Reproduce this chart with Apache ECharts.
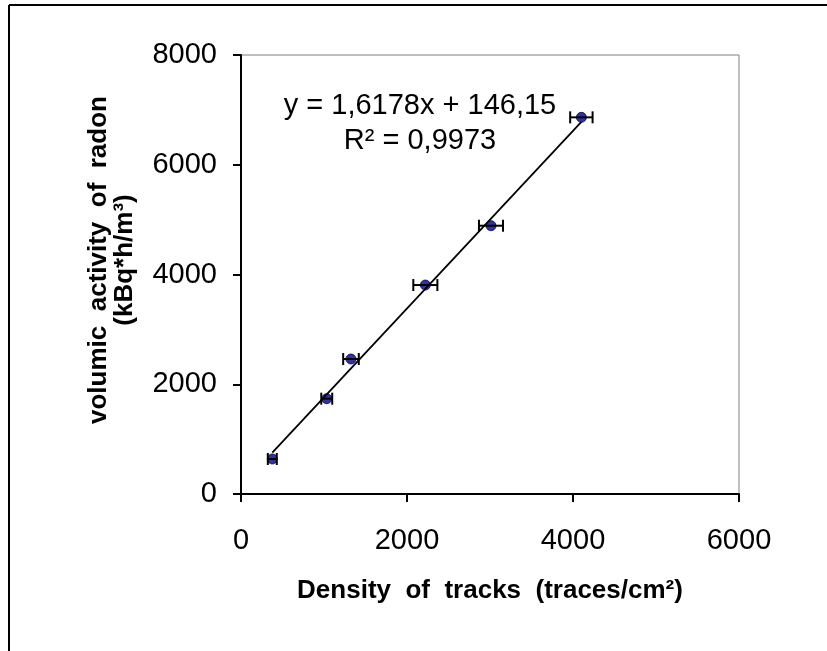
<!DOCTYPE html>
<html><head><meta charset="utf-8">
<script src="https://cdn.jsdelivr.net/npm/echarts@6/dist/echarts.min.js"></script>
<style>html,body{margin:0;padding:0;background:#fff}#c{width:827px;height:651px}</style>
</head><body><div id="c"></div>
<script>
const trackDensity = [377, 1033, 1325, 2221, 3012, 4101];
const radonActivity = [638, 1737, 2460, 3808, 4889, 6864];
const densityError = [54, 66, 94, 145, 145, 135];
const trendSlope = 1.6178;
const trendIntercept = 146.15;
const equationLines = ['y = 1,6178x + 146,15', 'R\u00b2 = 0,9973'];
const xTickValues = [0, 2000, 4000, 6000];
const yTickValues = [0, 2000, 4000, 6000, 8000];
const xTitle = 'Density  of  tracks  (traces/cm\u00b2)';
const yTitleLines = ['volumic  activity  of  radon', '(kBq*h/m\u00b3)'];

const points = trackDensity.map((x, i) => [x, radonActivity[i]]);
const errData = trackDensity.map((x, i) => [x - densityError[i], x + densityError[i], radonActivity[i]]);
const xMin = Math.min(...trackDensity), xMax = Math.max(...trackDensity);
const trendData = [[xMin, trendSlope * xMin + trendIntercept], [xMax, trendSlope * xMax + trendIntercept]];

const FONT = 'Liberation Sans, Arial, sans-serif';
const chart = echarts.init(document.getElementById('c'), null, {renderer: 'canvas'});
chart.setOption({
  animation: false,
  backgroundColor: '#fff',
  grid: {left: 241, right: 88, top: 55, bottom: 157, show: true, borderColor: '#808080', borderWidth: 1, backgroundColor: 'transparent'},
  xAxis: {
    type: 'value', min: xTickValues[0], max: xTickValues[xTickValues.length - 1],
    interval: xTickValues[1] - xTickValues[0],
    axisLine: {show: true, onZero: false, lineStyle: {color: '#000', width: 2}},
    axisTick: {show: true, length: 8, lineStyle: {color: '#000', width: 2}},
    splitLine: {show: false},
    axisLabel: {color: '#000', fontFamily: FONT, fontSize: 29, margin: 32, formatter: v => String(v)},
    name: xTitle, nameLocation: 'middle', nameGap: 84,
    nameTextStyle: {color: '#000', fontFamily: FONT, fontSize: 26, fontWeight: 'bold'}
  },
  yAxis: {
    type: 'value', min: yTickValues[0], max: yTickValues[yTickValues.length - 1],
    interval: yTickValues[1] - yTickValues[0],
    axisLine: {show: true, onZero: false, lineStyle: {color: '#000', width: 2}},
    axisTick: {show: true, length: 8, lineStyle: {color: '#000', width: 2}},
    splitLine: {show: false},
    axisLabel: {color: '#000', fontFamily: FONT, fontSize: 29, margin: 24, formatter: v => String(v)}
  },
  graphic: [
    {type: 'line', shape: {x1: 9, y1: 5, x2: 9, y2: 660}, style: {stroke: '#000', lineWidth: 2}},
    {type: 'line', shape: {x1: 9, y1: 5, x2: 830, y2: 5}, style: {stroke: '#000', lineWidth: 2}},
    {type: 'text', x: 112, y: 260, rotation: Math.PI / 2,
     style: {text: yTitleLines.join('\n'), fill: '#000', font: 'bold 26px ' + FONT, textAlign: 'center', textVerticalAlign: 'middle', lineHeight: 26}},
    {type: 'text', x: 420, y: 88, style: {text: equationLines.join('\n'), fill: '#000', font: '29px ' + FONT, textAlign: 'center', lineHeight: 35}}
  ],
  series: [
    {type: 'scatter', data: points, symbol: 'circle', symbolSize: 10, z: 2,
     itemStyle: {color: '#000080', borderColor: '#000060', borderWidth: 1}},
    {type: 'custom', z: 3, data: errData,
     renderItem: function (params, api) {
       const lo = api.coord([api.value(0), api.value(2)]);
       const hi = api.coord([api.value(1), api.value(2)]);
       const h = 6;
       const st = {stroke: '#000', lineWidth: 2};
       return {type: 'group', children: [
         {type: 'line', shape: {x1: lo[0], y1: lo[1], x2: hi[0], y2: hi[1]}, style: st},
         {type: 'line', shape: {x1: lo[0], y1: lo[1] - h, x2: lo[0], y2: lo[1] + h}, style: st},
         {type: 'line', shape: {x1: hi[0], y1: hi[1] - h, x2: hi[0], y2: hi[1] + h}, style: st}
       ]};
     }},
    {type: 'line', data: trendData, symbol: 'none', z: 4, lineStyle: {color: '#000', width: 1.8}}
  ]
});
</script></body></html>
